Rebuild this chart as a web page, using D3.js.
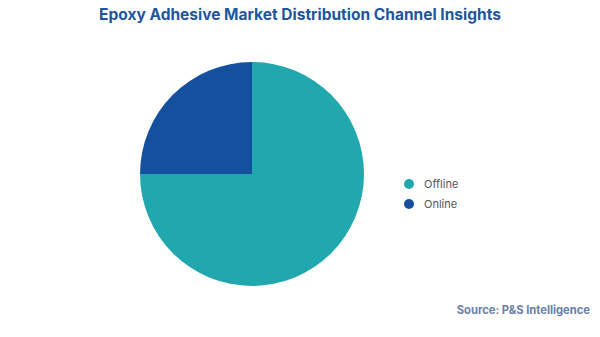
<!DOCTYPE html>
<html>
<head>
<meta charset="utf-8">
<script src="https://cdn.jsdelivr.net/npm/d3@7"></script>
<style>
  html, body { margin: 0; padding: 0; background: #ffffff; }
  svg { display: block; }
</style>
</head>
<body>
<svg id="chart" width="600" height="337"></svg>
<script>
// Distribution channel shares (%)
const categories = ["Offline", "Online"];
const shares = [75, 25];
const colors = ["#21A7AE", "#15509F"];

const svg = d3.select("#chart");
const width = 600, height = 337;

svg.append("text")
  .attr("x", width / 2)
  .attr("y", 20)
  .attr("text-anchor", "middle")
  .attr("font-family", "Inter, 'Open Sans', sans-serif")
  .attr("font-weight", 700)
  .attr("font-size", 15.5)
  .attr("fill", "#1E56A0")
  .text("Epoxy Adhesive Market Distribution Channel Insights");

const cx = 252, cy = 174, r = 112;
const data = categories.map((c, i) => ({ name: c, value: shares[i], color: colors[i] }));

const pie = d3.pie().value(d => d.value).sort(null);
const arc = d3.arc().innerRadius(0).outerRadius(r);

svg.append("g")
  .attr("transform", `translate(${cx},${cy})`)
  .selectAll("path")
  .data(pie(data))
  .join("path")
  .attr("d", arc)
  .attr("fill", d => d.data.color);

const color = d3.scaleOrdinal().domain(categories).range(colors);
const legendY = d3.scalePoint().domain(categories).range([184, 204]);

const legend = svg.append("g");
legend.selectAll("circle")
  .data(categories)
  .join("circle")
  .attr("cx", 409)
  .attr("cy", d => legendY(d))
  .attr("r", 5)
  .attr("fill", d => color(d));
legend.selectAll("text")
  .data(categories)
  .join("text")
  .attr("x", 424)
  .attr("y", d => legendY(d))
  .attr("dy", "0.35em")
  .attr("font-family", "Inter, 'Open Sans', sans-serif")
  .attr("font-size", 11)
  .attr("fill", "#555555")
  .text(d => d);

svg.append("text")
  .attr("x", 590)
  .attr("y", 314)
  .attr("text-anchor", "end")
  .attr("font-family", "Inter, 'Open Sans', sans-serif")
  .attr("font-weight", 700)
  .attr("font-size", 11.2)
  .attr("fill", "#6A80AA")
  .text("Source: P&S Intelligence");
</script>
</body>
</html>
